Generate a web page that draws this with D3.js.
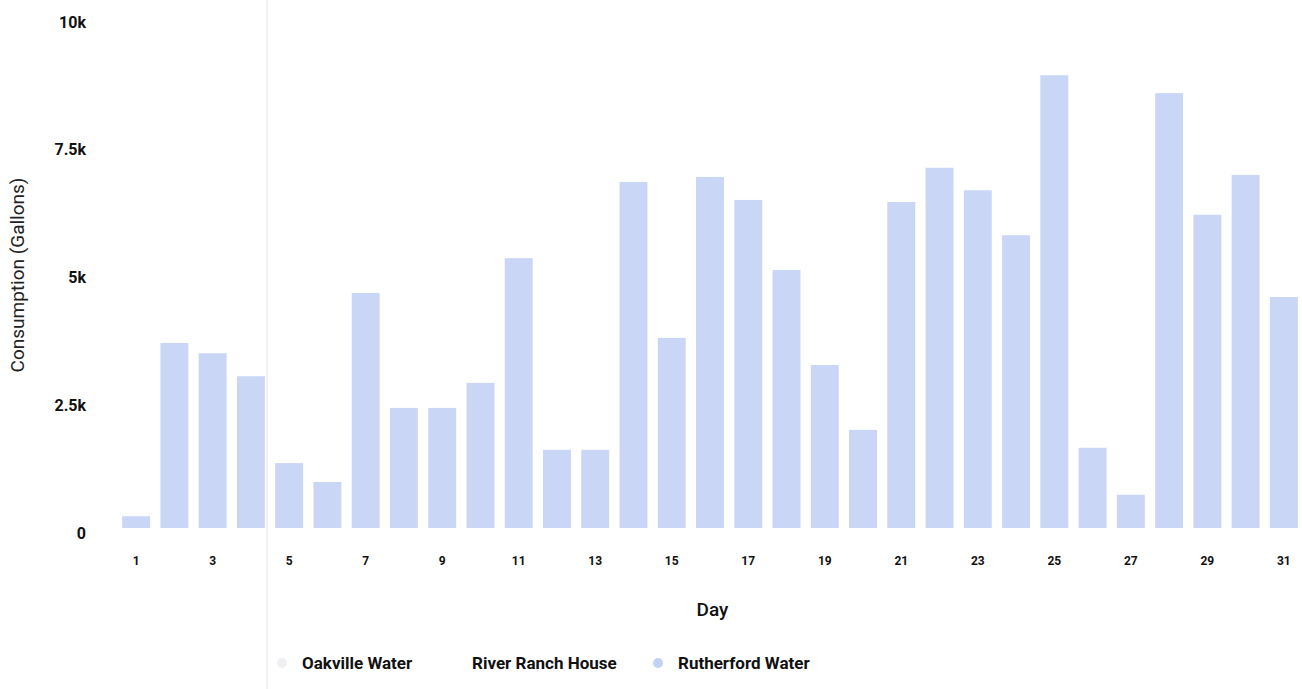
<!DOCTYPE html>
<html>
<head>
<meta charset="utf-8">
<script src="https://cdn.jsdelivr.net/npm/d3@7"></script>
<style>
  html, body { margin: 0; padding: 0; background: #fff; }
  svg { display: block; }
</style>
</head>
<body>
<svg id="chart"></svg>
<script>
// Data
const days = d3.range(1, 32);
const rutherford = [230, 3620, 3420, 2970, 1270, 900, 4600, 2350, 2350, 2840,
    5280, 1530, 1530, 6770, 3720, 6870, 6420, 5050, 3190, 1920,
    6380, 7050, 6610, 5730, 8860, 1570, 650, 8510, 6130, 6910, 4520];
const yTicks = [0, 2500, 5000, 7500, 10000];
const yTickLabels = ["0", "2.5k", "5k", "7.5k", "10k"];
const seriesNames = ["Oakville Water", "River Ranch House", "Rutherford Water"];
const seriesColors = ["#eef0f3", "#ffffff", "#c3d2f4"];

// Constants
const width = 1302;
const height = 689;
const margin = {top: 17, right: 0, bottom: 161, left: 117};
const barColor = "#c9d6f5";
const fontFamily = "Roboto, 'Noto Sans', sans-serif";

const svg = d3.select("#chart")
    .attr("width", width)
    .attr("height", height)
    .attr("viewBox", `0 0 ${width} ${height}`);

// faint fold line in the scan
svg.append("line")
    .attr("x1", 267).attr("x2", 267)
    .attr("y1", 0).attr("y2", height)
    .attr("stroke", "#e4e4e4")
    .attr("stroke-width", 1);

const xScale = d3.scaleBand()
    .domain(days)
    .range([margin.left, width - margin.right + 1])
    .paddingInner(0.27)
    .paddingOuter(0.135);

const yScale = d3.scaleLinear()
    .domain([0, 10000])
    .range([height - margin.bottom, margin.top]);

// Bars
svg.append("g")
    .selectAll("rect")
    .data(rutherford)
    .join("rect")
    .attr("x", (d, i) => xScale(days[i]))
    .attr("y", d => yScale(d))
    .attr("width", xScale.bandwidth())
    .attr("height", d => yScale(0) - yScale(d))
    .attr("fill", barColor);

// Y axis
const yAxis = svg.append("g")
    .attr("transform", `translate(${margin.left - 31}, 5)`)
    .call(d3.axisLeft(yScale)
        .tickValues(yTicks)
        .tickFormat((d, i) => yTickLabels[i])
        .tickSize(0)
        .tickPadding(0));
yAxis.select(".domain").remove();
yAxis.selectAll("text")
    .attr("fill", "#111")
    .style("font-family", fontFamily)
    .style("font-size", "16px")
    .style("font-weight", "700");

// X axis
const xAxis = svg.append("g")
    .attr("transform", `translate(0, ${yScale(0) + 28})`)
    .call(d3.axisBottom(xScale)
        .tickValues(days.filter(d => d % 2 === 1))
        .tickSize(0)
        .tickPadding(0));
xAxis.select(".domain").remove();
xAxis.selectAll("text")
    .attr("fill", "#111")
    .style("font-family", fontFamily)
    .style("font-size", "12px")
    .style("font-weight", "700");

// Axis titles
svg.append("text")
    .attr("transform", `translate(24, 275) rotate(-90)`)
    .attr("text-anchor", "middle")
    .attr("fill", "#222")
    .style("font-family", fontFamily)
    .style("font-size", "19px")
    .text("Consumption (Gallons)");

svg.append("text")
    .attr("x", (margin.left + width) / 2 + 3)
    .attr("y", 616)
    .attr("text-anchor", "middle")
    .attr("fill", "#111")
    .style("font-family", fontFamily)
    .style("font-size", "19px")
    .style("font-weight", "500")
    .text("Day");

// Legend
const legendX = [282, 452, 658];
const legend = svg.append("g")
    .selectAll("g")
    .data(seriesNames)
    .join("g")
    .attr("transform", (d, i) => `translate(${legendX[i]}, 663)`);
legend.append("circle")
    .attr("r", 5)
    .attr("fill", (d, i) => seriesColors[i]);
legend.append("text")
    .attr("x", 20)
    .attr("dy", "0.36em")
    .attr("fill", "#111")
    .style("font-family", fontFamily)
    .style("font-size", "17px")
    .style("font-weight", "700")
    .text(d => d);
</script>
</body>
</html>
